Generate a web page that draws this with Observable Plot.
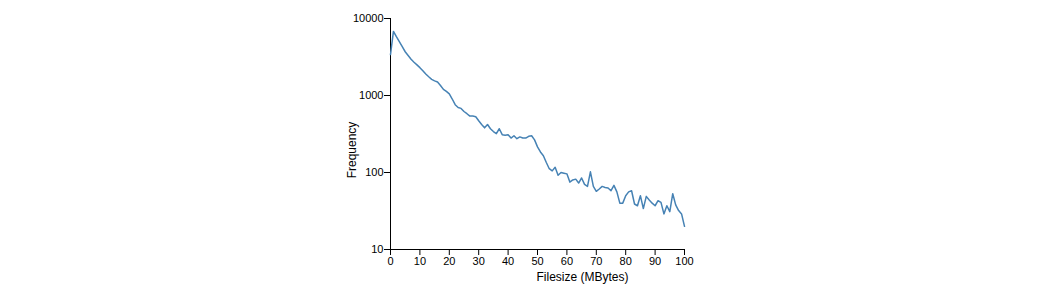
<!DOCTYPE html>
<html>
<head>
<meta charset="utf-8">
<script src="https://cdn.jsdelivr.net/npm/d3@7"></script>
<script src="https://cdn.jsdelivr.net/npm/@observablehq/plot@0.6"></script>
<style>
  html, body { margin: 0; padding: 0; background: #fff; }
  #chart svg { display: block; }
</style>
</head>
<body>
<div id="chart"></div>
<script>
// Filesize in MBytes (0..100, step 1)
const filesize = d3.range(0, 101);
// Frequency
const frequency = [
  3400, 6800, 5800, 5000, 4300, 3700, 3300, 2950, 2700, 2500,
  2300, 2100, 1900, 1750, 1620, 1550, 1500, 1350, 1200, 1130,
  1050, 900, 760, 700, 680, 620, 580, 540, 540, 530,
  470, 420, 380, 420, 370, 340, 320, 370, 310, 305,
  310, 280, 300, 275, 290, 280, 280, 295, 300, 265,
  215, 185, 165, 135, 112, 105, 117, 92, 100, 98,
  96, 75, 80, 82, 73, 85, 70, 66, 102, 66,
  57, 61, 66, 64, 63, 58, 68, 56, 40, 40,
  50, 56, 58, 39, 37, 50, 34, 49, 44, 40,
  37, 43, 41, 29, 37, 31, 53, 38, 32, 29,
  20
];
const xTicks = [0, 10, 20, 30, 40, 50, 60, 70, 80, 90, 100];
const yTicks = [10, 100, 1000, 10000];
const xLabel = "Filesize (MBytes)";
const yLabel = "Frequency";

const data = filesize.map((x, i) => ({x, y: frequency[i]}));

const chart = Plot.plot({
  width: 1040,
  height: 295,
  marginLeft: 390,
  marginRight: 356,
  marginTop: 18,
  marginBottom: 46,
  style: {fontFamily: "'Liberation Sans', Arial, sans-serif", fontSize: "11px", color: "#000", background: "#fff"},
  x: {domain: [0, 100]},
  y: {type: "log", domain: [10, 10000]},
  marks: [
    Plot.axisX({ticks: xTicks, tickSize: 6, tickPadding: 2, tickFormat: d => String(d), label: null, stroke: "#000", fill: "#000"}),
    Plot.axisY({ticks: yTicks, tickSize: 6, tickPadding: 1, tickFormat: d => String(d), label: null, stroke: "#000", fill: "#000"}),
    Plot.ruleX([0], {stroke: "#000"}),
    Plot.ruleY([10], {stroke: "#000"}),
    Plot.line(data, {x: "x", y: "y", stroke: "steelblue", strokeWidth: 1.5}),
    Plot.text([xLabel], {frameAnchor: "bottom", dx: 45, dy: 31, text: d => d, fontSize: 12, fill: "#000"}),
    Plot.text([yLabel], {frameAnchor: "left", textAnchor: "middle", dx: -38, dy: 16, rotate: -90, text: d => d, fontSize: 12, fill: "#000"})
  ]
});
document.getElementById("chart").appendChild(chart);
</script>
</body>
</html>
